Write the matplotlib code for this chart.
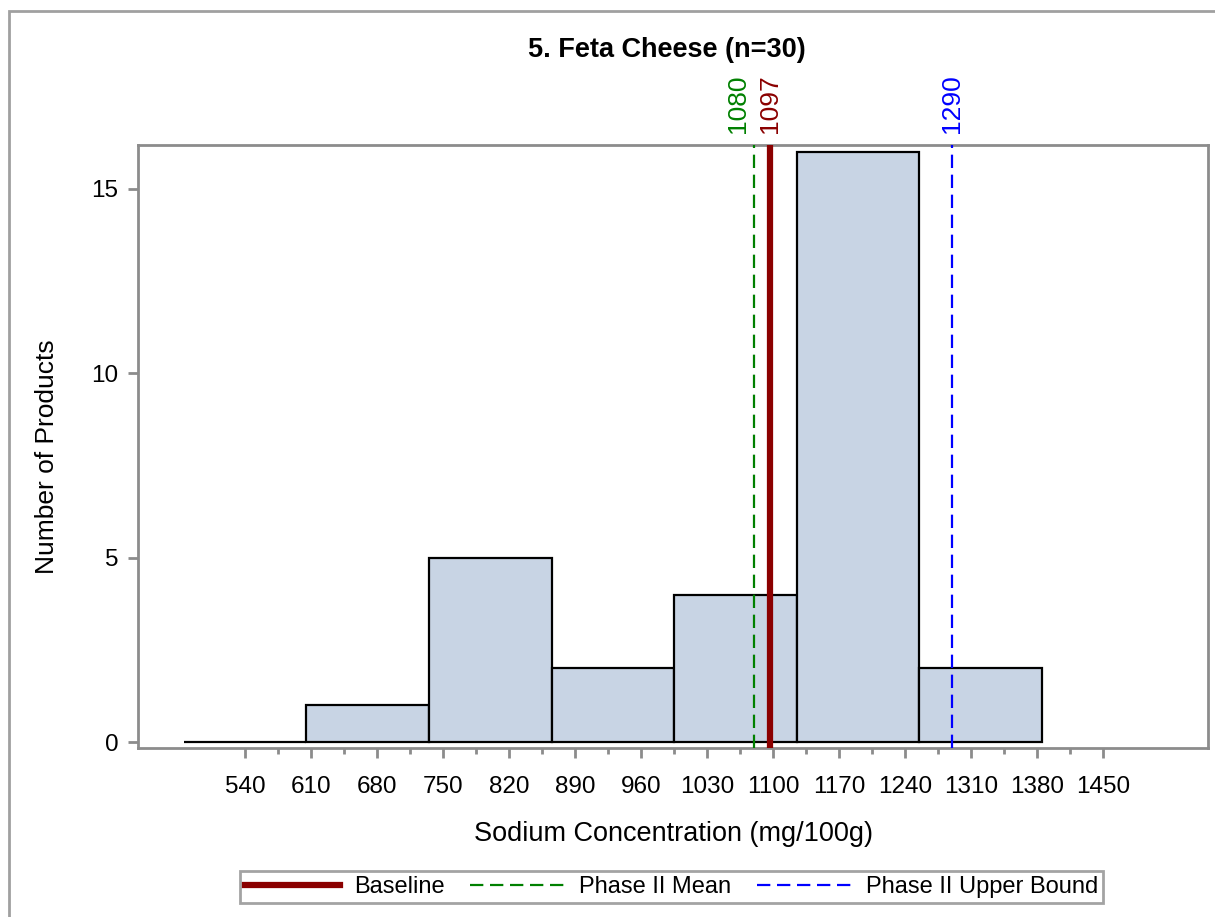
import matplotlib.pyplot as plt
from matplotlib.transforms import blended_transform_factory
from matplotlib.lines import Line2D
from matplotlib.patches import Rectangle

plt.rcParams['font.family'] = ['Liberation Sans', 'DejaVu Sans']

# Datos del histograma (centros de clase, ancho 130)
centros = [540, 670, 800, 930, 1060, 1190, 1320]
conteos = [0, 1, 5, 2, 4, 16, 2]
ancho = 130

ticks_x = [540, 610, 680, 750, 820, 890, 960, 1030, 1100, 1170, 1240, 1310, 1380, 1450]
ticks_y = [0, 5, 10, 15]

linea_base = 1097
media_fase2 = 1080
limite_fase2 = 1290

gris = '#8c8c8c'

fig = plt.figure(figsize=(12.15, 9.17), dpi=100)
ax = fig.add_axes([138 / 1215, 1 - 748 / 917, 1070 / 1215, 603 / 917])

ax.bar(centros, conteos, width=ancho, color='#c8d4e4', edgecolor='black',
       linewidth=1.6, zorder=2)

ax.axvline(media_fase2, color='#008000', lw=1.6, dashes=(6, 3), zorder=3)
ax.axvline(linea_base, color='#8b0000', lw=4.5, zorder=4)
ax.axvline(limite_fase2, color='#0000ff', lw=1.6, dashes=(6, 3), zorder=3)

trans = blended_transform_factory(ax.transData, ax.transAxes)
ax.text(media_fase2 - 17, 1.02, str(media_fase2), rotation=90, color='#008000',
        ha='center', va='bottom', fontsize=19, transform=trans)
ax.text(linea_base, 1.02, str(linea_base), rotation=90, color='#8b0000',
        ha='center', va='bottom', fontsize=19, transform=trans)
ax.text(limite_fase2, 1.02, str(limite_fase2), rotation=90, color='#0000ff',
        ha='center', va='bottom', fontsize=19, transform=trans)

ax.set_xlim(426.5, 1561)
ax.set_ylim(-0.16, 16.19)
ax.set_xticks(ticks_x)
ax.set_xticks([t + 35 for t in ticks_x[:-1]], minor=True)
ax.set_yticks(ticks_y)

for s in ax.spines.values():
    s.set_color(gris)
    s.set_linewidth(2)

ax.tick_params(axis='both', which='both', colors=gris, labelcolor='black',
               width=2, labelsize=17.5)
ax.tick_params(axis='x', which='major', length=7, pad=13)
ax.tick_params(axis='x', which='minor', length=4)
ax.tick_params(axis='y', length=7, pad=7)

ax.set_xlabel('Sodium Concentration (mg/100g)', fontsize=19.5, labelpad=17)
fig.text(47 / 1215, 1 - 457 / 917, 'Number of Products', rotation=90,
         ha='center', va='center', fontsize=19)

fig.text(667 / 1215, 1 - 50 / 917, '5. Feta Cheese (n=30)', ha='center',
         va='center', fontsize=19.5, fontweight='bold')

manejadores = [
    Line2D([], [], color='#8b0000', lw=4.5),
    Line2D([], [], color='#008000', lw=1.6, dashes=(6, 3)),
    Line2D([], [], color='#0000ff', lw=1.6, dashes=(6, 3)),
]
etiquetas = ['Baseline', 'Phase II Mean', 'Phase II Upper Bound']
leg = fig.legend(manejadores, etiquetas, ncol=3, loc='center',
                 bbox_to_anchor=(671.5 / 1215, 1 - 887 / 917), fontsize=17,
                 frameon=True, fancybox=False, handlelength=4.0,
                 handletextpad=0.6, columnspacing=1.1, borderpad=0.2)
leg.get_frame().set_edgecolor(gris)
leg.get_frame().set_linewidth(2)

# Marco exterior (cortado por la derecha y abajo)
fig.patches.append(Rectangle((9 / 1215, -0.05), 1.1, 1 - 11 / 917 + 0.05,
                             transform=fig.transFigure, fill=False,
                             edgecolor='#a0a0a0', lw=2))

fig.savefig('out.png', dpi=100)
plt.close(fig)
